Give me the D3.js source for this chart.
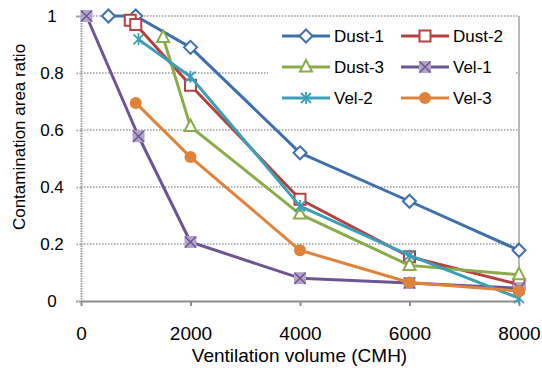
<!DOCTYPE html>
<html>
<head>
<meta charset="utf-8">
<script src="https://cdn.jsdelivr.net/npm/d3@7"></script>
<style>
  body { margin: 0; background: #fff; }
  text { font-family: "Liberation Sans", Arial, sans-serif; fill: #000; }
</style>
</head>
<body>
<div id="chart"></div>
<script>
// Donnees
const seriesNames = ['Dust-1', 'Dust-2', 'Dust-3', 'Vel-1', 'Vel-2', 'Vel-3']
const dust1 = [[500, 1], [1000, 1], [2000, 0.89], [4000, 0.52], [6000, 0.35], [8000, 0.178]]
const dust2 = [[900, 0.985], [1000, 0.97], [2000, 0.757], [4000, 0.357], [6000, 0.155], [8000, 0.058]]
const dust3 = [[1500, 0.925], [2000, 0.612], [4000, 0.305], [6000, 0.125], [8000, 0.092]]
const vel1 = [[100, 1], [1050, 0.578], [2000, 0.207], [4000, 0.08], [6000, 0.063], [8000, 0.045]]
const vel2 = [[1050, 0.918], [2000, 0.787], [4000, 0.333], [6000, 0.16], [8000, 0.01]]
const vel3 = [[1000, 0.695], [2000, 0.505], [4000, 0.178], [6000, 0.065], [8000, 0.035]]
const xTicks = [0, 2000, 4000, 6000, 8000]
const yTicks = [0, 0.2, 0.4, 0.6, 0.8, 1]

const colors = ['#3F6FAD', '#B5413E', '#8AAC48', '#6D5494', '#3B9FBA', '#E0833A']
const allData = [dust1, dust2, dust3, vel1, vel2, vel3]

let margin = { top: 16, right: 23, bottom: 67, left: 81 },
    width = 542 - margin.left - margin.right,
    height = 368 - margin.top - margin.bottom

let x = d3.scaleLinear().domain([0, 8000]).range([0, width])
let y = d3.scaleLinear().domain([0, 1]).range([height, 0])

let svg = d3.select('#chart')
    .append('svg')
    .attr('width', 542)
    .attr('height', 368)

let g = svg.append('g')
    .attr('transform', 'translate(' + margin.left + ',' + margin.top + ')')

// grille horizontale en pointilles
g.append('g')
    .selectAll('line')
    .data(yTicks.filter(d => d > 0))
    .join('line')
    .attr('x1', 0).attr('x2', width)
    .attr('y1', d => y(d)).attr('y2', d => y(d))
    .attr('stroke', '#9a9a9a')
    .attr('stroke-width', 1.5)
    .attr('stroke-dasharray', '1.5,1.5')

// bordure droite
g.append('line')
    .attr('x1', width).attr('x2', width)
    .attr('y1', 0).attr('y2', height)
    .attr('stroke', '#a0a0a0').attr('stroke-width', 1.5)

// axe y
let yAxis = g.append('g')
    .call(d3.axisLeft(y).tickValues(yTicks).tickSize(5).tickPadding(10)
        .tickFormat(d => d === 0 || d === 1 ? d3.format('d')(d) : d3.format('.1f')(d)))
yAxis.select('.domain').attr('stroke', '#9a9a9a').attr('stroke-width', 2).attr('stroke-dasharray', '1.5,1')
yAxis.selectAll('.tick line').attr('stroke', '#9a9a9a').attr('stroke-width', 1.5).attr('stroke-dasharray', '1.5,1.5')
yAxis.selectAll('.tick text')
    .style('font-size', '17px').attr('font-family', null)
    .attr('text-anchor', 'middle').attr('x', -29)

// axe x
let xAxis = g.append('g')
    .attr('transform', 'translate(0,' + height + ')')
    .call(d3.axisBottom(x).tickValues(xTicks).tickSize(5).tickSizeOuter(0).tickPadding(21).tickFormat(d3.format('d')))
xAxis.select('.domain').attr('stroke', '#8c8c8c').attr('stroke-width', 2)
xAxis.selectAll('.tick line').attr('stroke', '#8c8c8c').attr('stroke-width', 2)
xAxis.selectAll('.tick text').style('font-size', '19px').attr('font-family', null)

// titres des axes
svg.append('text')
    .attr('x', 299.5)
    .attr('y', 362)
    .attr('text-anchor', 'middle')
    .style('font-size', '19px')
    .text('Ventilation volume (CMH)')

svg.append('text')
    .attr('transform', 'translate(25,137) rotate(-90)')
    .attr('text-anchor', 'middle')
    .style('font-size', '17px')
    .text('Contamination area ratio')

// marqueurs
let drawMarker = (sel, i, cx, cy) => {
    const c = colors[i]
    if (i === 0) {
        sel.append('path')
            .attr('d', `M${cx},${cy - 6.5}L${cx + 6.5},${cy}L${cx},${cy + 6.5}L${cx - 6.5},${cy}Z`)
            .attr('fill', '#fff').attr('stroke', c).attr('stroke-width', 2)
    } else if (i === 1) {
        sel.append('rect')
            .attr('x', cx - 5.5).attr('y', cy - 5.5).attr('width', 11).attr('height', 11)
            .attr('fill', '#fff').attr('stroke', c).attr('stroke-width', 2)
    } else if (i === 2) {
        sel.append('path')
            .attr('d', `M${cx},${cy - 7}L${cx + 6},${cy + 4.5}L${cx - 6},${cy + 4.5}Z`)
            .attr('fill', '#fff').attr('stroke', c).attr('stroke-width', 2)
    } else if (i === 3) {
        sel.append('rect')
            .attr('x', cx - 6).attr('y', cy - 6).attr('width', 12).attr('height', 12)
            .attr('fill', '#B3A3CA')
        sel.append('path')
            .attr('d', `M${cx - 5.5},${cy - 5.5}L${cx + 5.5},${cy + 5.5}M${cx + 5.5},${cy - 5.5}L${cx - 5.5},${cy + 5.5}`)
            .attr('stroke', c).attr('stroke-width', 1.5)
    } else if (i === 4) {
        sel.append('path')
            .attr('d', `M${cx - 5},${cy - 5}L${cx + 5},${cy + 5}M${cx + 5},${cy - 5}L${cx - 5},${cy + 5}M${cx},${cy - 6}L${cx},${cy + 6}`)
            .attr('stroke', c).attr('stroke-width', 1.8)
    } else {
        sel.append('circle')
            .attr('cx', cx).attr('cy', cy).attr('r', 6)
            .attr('fill', c)
    }
}

let line = d3.line().x(d => x(d[0])).y(d => y(d[1]))

allData.forEach((serie, i) => {
    let sg = g.append('g')
    sg.append('path')
        .datum(serie)
        .attr('d', line)
        .attr('fill', 'none')
        .attr('stroke', colors[i])
        .attr('stroke-width', 3)
        .attr('stroke-linejoin', 'round')
    serie.forEach(d => drawMarker(sg, i, x(d[0]), y(d[1])))
})

// legende
let leg = svg.append('g')
leg.append('rect')
    .attr('x', 268).attr('y', 20).attr('width', 247).attr('height', 92)
    .attr('fill', '#fff')

seriesNames.forEach((name, i) => {
    let col = i % 2, row = Math.floor(i / 2)
    let lx = col === 0 ? 282 : 401
    let ly = 36 + row * 31
    let lg = leg.append('g')
    lg.append('line')
        .attr('x1', lx).attr('x2', lx + 48)
        .attr('y1', ly).attr('y2', ly)
        .attr('stroke', colors[i]).attr('stroke-width', 3)
    drawMarker(lg, i, lx + 24, ly)
    lg.append('text')
        .attr('x', lx + 52)
        .attr('y', ly + 6)
        .style('font-size', '17px')
        .text(name)
})
</script>
</body>
</html>
